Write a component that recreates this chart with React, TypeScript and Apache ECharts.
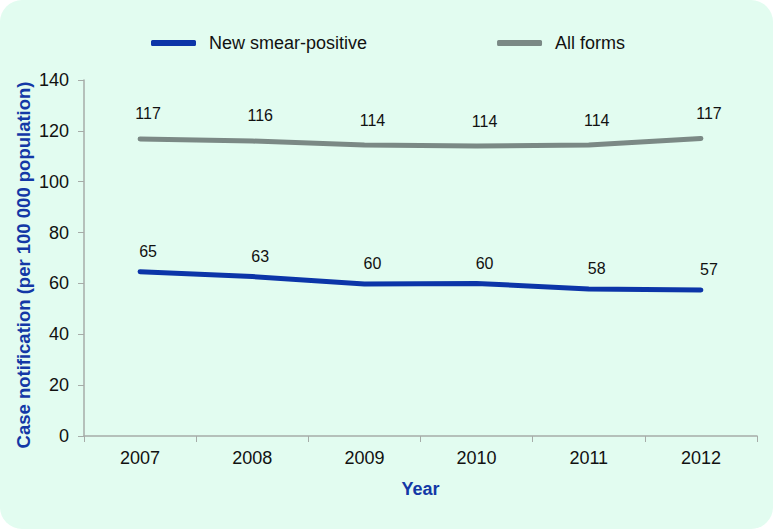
import React, { useEffect, useRef } from "react";
import * as echarts from "echarts";

const years = ["2007", "2008", "2009", "2010", "2011", "2012"];
const smearPositive = [64.6, 62.7, 59.8, 60.0, 57.8, 57.4];
const allForms = [116.8, 116.0, 114.4, 114.0, 114.4, 117.0];
const seriesNames = ["New smear-positive", "All forms"];
const yAxisTitle = "Case notification (per 100 000 population)";
const xAxisTitle = "Year";

export default function App() {
  const ref = useRef<HTMLDivElement>(null);
  useEffect(() => {
    const chart = echarts.init(ref.current!, undefined, { renderer: "svg" });
    const font = "Liberation Sans, Arial, sans-serif";
    const mkLabel = (distance: number) => ({
      show: true,
      position: "top",
      distance,
      offset: [8, 0],
      fontSize: 16,
      color: "#111",
      fontFamily: font,
      formatter: (p: any) => String(Math.round(p.value)),
    });
    chart.setOption({
      animation: false,
      backgroundColor: "transparent",
      textStyle: { fontFamily: font },
      legend: {
        top: 29,
        left: 146,
        itemGap: 130,
        itemWidth: 45,
        itemHeight: 6,
        icon: "roundRect",
        textStyle: { fontSize: 18, color: "#111", fontFamily: font, padding: [0, 0, 0, 8] },
        data: seriesNames,
      },
      grid: { left: 84, right: 16, top: 80, bottom: 93 },
      graphic: [
        {
          type: "text",
          x: 23,
          y: 265,
          rotation: Math.PI / 2,
          style: {
            text: yAxisTitle,
            fontSize: 18.5,
            fontWeight: "bold",
            fill: "#1338a6",
            fontFamily: font,
            align: "center",
            verticalAlign: "middle",
          },
        },
      ],
      xAxis: {
        type: "category",
        data: years,
        boundaryGap: true,
        name: xAxisTitle,
        nameLocation: "middle",
        nameGap: 44,
        nameTextStyle: { fontSize: 18, fontWeight: "bold", color: "#1338a6", fontFamily: font },
        axisLine: { lineStyle: { color: "#a6aca8", width: 1.5 } },
        axisTick: { show: true, alignWithLabel: false, length: 6, lineStyle: { color: "#a6aca8" } },
        axisLabel: { fontSize: 18, color: "#111", margin: 13, fontFamily: font },
      },
      yAxis: {
        type: "value",
        min: 0,
        max: 140,
        interval: 20,
        splitLine: { show: false },
        axisLine: { show: true, lineStyle: { color: "#a6aca8", width: 1.5 } },
        axisTick: { show: true, length: 6, lineStyle: { color: "#a6aca8" } },
        axisLabel: { fontSize: 18, color: "#111", margin: 15, fontFamily: font },
      },
      series: [
        {
          name: seriesNames[0],
          type: "line",
          data: smearPositive,
          symbol: "circle",
          symbolSize: 0.1,
          showSymbol: true,
          lineStyle: { color: "#0c35a8", width: 5, cap: "round", join: "round" },
          itemStyle: { color: "#0c35a8" },
          label: mkLabel(12),
        },
        {
          name: seriesNames[1],
          type: "line",
          data: allForms,
          symbol: "circle",
          symbolSize: 0.1,
          showSymbol: true,
          lineStyle: { color: "#7b8985", width: 5, cap: "round", join: "round" },
          itemStyle: { color: "#7b8985" },
          label: mkLabel(17),
        },
      ],
    });
    return () => chart.dispose();
  }, []);
  return (
    <div style={{ position: "absolute", left: 0, top: 0, width: 773, height: 529, background: "#fff" }}>
      <div
        style={{
          position: "absolute",
          left: 0,
          top: 0,
          width: 773,
          height: 529,
          background: "#e2fcf0",
          borderRadius: 22,
        }}
      />
      <div ref={ref} style={{ position: "absolute", left: 0, top: 0, width: 773, height: 529 }} />
    </div>
  );
}
